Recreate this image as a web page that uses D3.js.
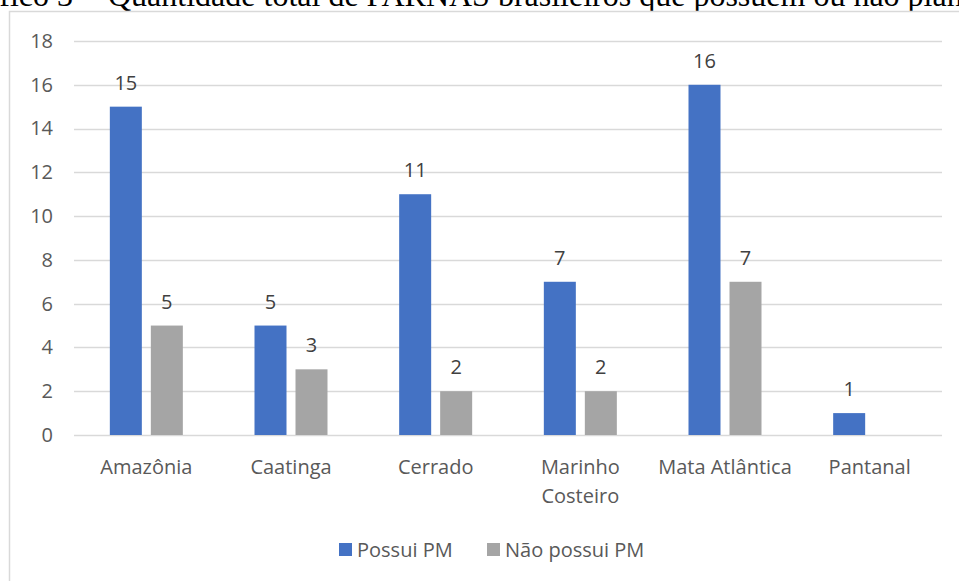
<!DOCTYPE html>
<html>
<head>
<meta charset="utf-8">
<script src="https://cdn.jsdelivr.net/npm/d3@7/dist/d3.min.js"></script>
<style>
  html, body { margin: 0; padding: 0; background: #fff; }
  svg { display: block; }
</style>
</head>
<body>
<svg id="chart" width="959" height="581"></svg>
<script>
// Parques nacionais por bioma, com e sem plano de manejo
const categories = ["Amazônia", "Caatinga", "Cerrado", "Marinho Costeiro", "Mata Atlântica", "Pantanal"];
const possuiPM = [15, 5, 11, 7, 16, 1];
const naoPossuiPM = [5, 3, 2, 2, 7, null];
const seriesNames = ["Possui PM", "Não possui PM"];
const yTicks = [0, 2, 4, 6, 8, 10, 12, 14, 16, 18];

const colors = ["#4472C4", "#A5A5A5"];
const textColor = "#595959";
const font = "'Open Sans', sans-serif";
const fs = 20;

const svg = d3.select("#chart");

// Title (runs off the top edge of the page)
svg.append("text")
  .attr("x", 97).attr("y", 6)
  .attr("text-anchor", "end")
  .attr("font-family", "'Liberation Serif', 'Times New Roman', serif")
  .attr("font-size", 32).attr("fill", "#000")
  .text("Gráfico 3 –");
svg.append("text")
  .attr("x", 108).attr("y", 6)
  .attr("font-family", "'Liberation Serif', 'Times New Roman', serif")
  .attr("font-size", 32).attr("fill", "#000")
  .text("Quantidade total de PARNAS brasileiros que possuem ou não plano de manejo");

// Chart frame
svg.append("rect")
  .attr("x", 9.5).attr("y", 11.5)
  .attr("width", 1000).attr("height", 700)
  .attr("fill", "#fff")
  .attr("stroke", "#d9d9d9").attr("stroke-width", 1.5);

const x = d3.scaleBand().domain(categories).range([74, 942]);
const y = d3.scaleLinear().domain([0, 18]).range([435, 41]);

// Gridlines
svg.append("g")
  .selectAll("line")
  .data(yTicks)
  .join("line")
  .attr("x1", 74).attr("x2", 942)
  .attr("y1", d => Math.round(y(d)) + 0.5)
  .attr("y2", d => Math.round(y(d)) + 0.5)
  .attr("stroke", "#d9d9d9").attr("stroke-width", 1.5);

// Y axis labels
const yAxis = d3.axisLeft(y).tickValues(yTicks).tickSize(0).tickPadding(0);
const yG = svg.append("g").attr("transform", "translate(53,0)").call(yAxis);
yG.select(".domain").remove();
yG.selectAll("text")
  .attr("font-family", font).attr("font-size", fs)
  .attr("fill", textColor);

// Bars
const barW = 32, gap = 9;
const rows = categories.map((c, i) => ({ c, vals: [possuiPM[i], naoPossuiPM[i]] }));
const groups = svg.append("g").selectAll("g")
  .data(rows).join("g")
  .attr("transform", d => `translate(${x(d.c) + x.bandwidth() / 2},0)`);

groups.each(function (d) {
  const g = d3.select(this);
  d.vals.forEach((v, k) => {
    if (v == null) return;
    const bx = k === 0 ? -(barW + gap / 2) : gap / 2;
    g.append("rect")
      .attr("x", bx).attr("y", y(v))
      .attr("width", barW).attr("height", y(0) - y(v))
      .attr("fill", colors[k]);
    g.append("text")
      .attr("x", bx + barW / 2).attr("y", y(v) - 17)
      .attr("text-anchor", "middle")
      .attr("font-family", font).attr("font-size", fs)
      .attr("fill", "#404040")
      .text(v);
  });
});

// Category labels
const catG = svg.append("g");
categories.forEach(c => {
  const words = c === "Marinho Costeiro" ? ["Marinho", "Costeiro"] : [c];
  const t = catG.append("text")
    .attr("text-anchor", "middle")
    .attr("font-family", font).attr("font-size", fs)
    .attr("fill", textColor);
  words.forEach((w, j) => {
    t.append("tspan")
      .attr("x", x(c) + x.bandwidth() / 2)
      .attr("y", 474 + j * 29)
      .text(w);
  });
});

// Legend
const legendX = [339, 487];
seriesNames.forEach((name, k) => {
  svg.append("rect")
    .attr("x", legendX[k]).attr("y", 543)
    .attr("width", 13).attr("height", 13)
    .attr("fill", colors[k]);
  svg.append("text")
    .attr("x", legendX[k] + 18).attr("y", 557)
    .attr("font-family", font).attr("font-size", fs)
    .attr("fill", textColor)
    .text(name);
});
</script>
</body>
</html>
